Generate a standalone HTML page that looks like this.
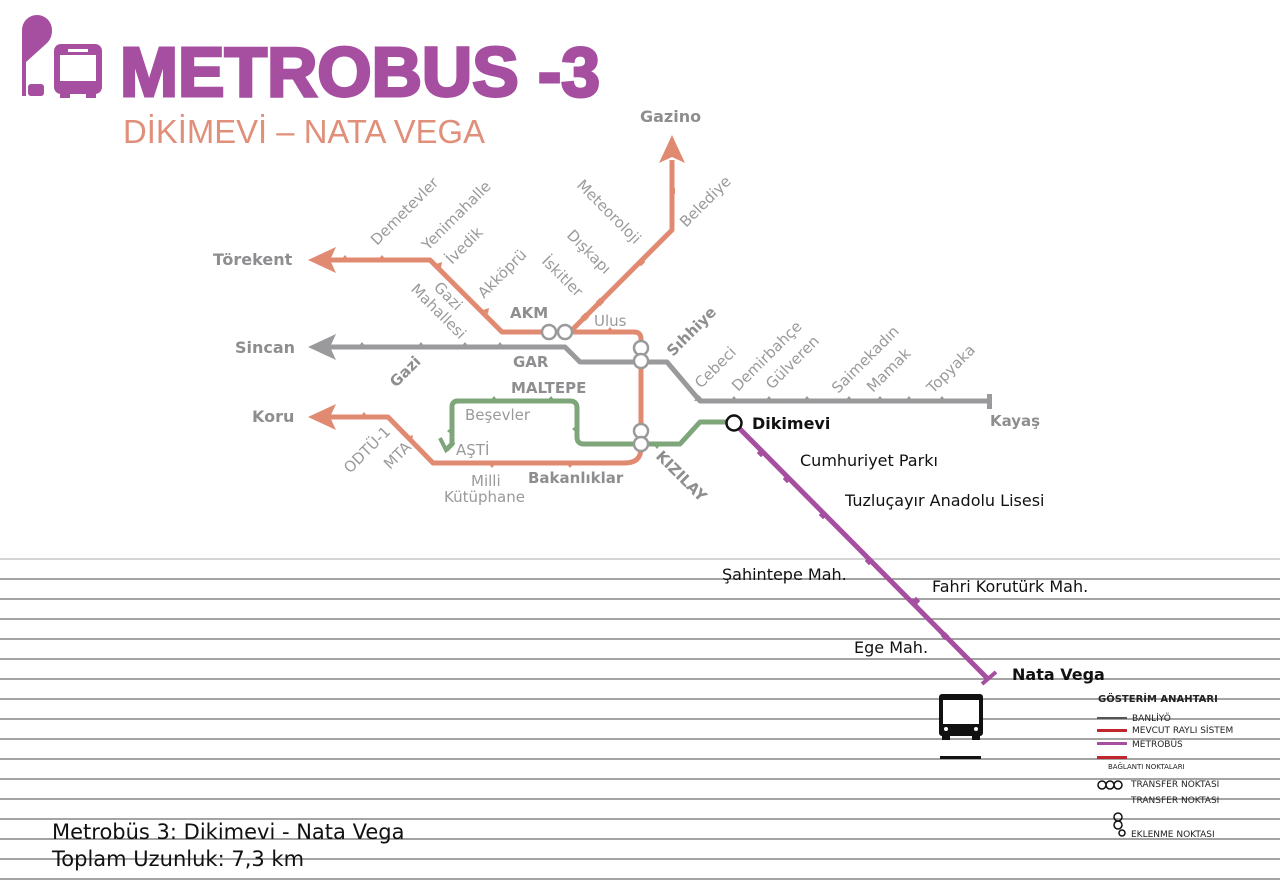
<!DOCTYPE html>
<html><head><meta charset="utf-8"><style>
html,body{margin:0;padding:0;background:#fff;}
svg{display:block;}
text{font-family:"DejaVu Sans","Liberation Sans",sans-serif;}
</style></head><body>
<svg width="1280" height="896" viewBox="0 0 1280 896" xmlns="http://www.w3.org/2000/svg">
<rect width="1280" height="896" fill="#fff"/>
<g fill="#a64ea0">
<path d="M22 96 V30 a15 15 0 0 1 30 0 a18 18 0 0 1 -6 14 L26 62 V96 Z"/>
<rect x="28" y="84" width="16" height="12" rx="3"/>
<rect x="54" y="44" width="48" height="50" rx="7"/>
<rect x="60" y="94" width="10" height="4"/><rect x="86" y="94" width="10" height="4"/>
</g>
<rect x="60" y="55" width="36" height="26" fill="#fff"/>
<rect x="68" y="49" width="20" height="3" fill="#fff"/>
<text x="120" y="96" font-weight="bold" font-size="70" fill="#a64ea0" textLength="480" lengthAdjust="spacingAndGlyphs" style="font-family:'Liberation Sans',sans-serif;font-weight:900" stroke="#a64ea0" stroke-width="3">METROBUS -3</text>
<text x="123" y="143" font-size="33" fill="#e0907a" textLength="362" lengthAdjust="spacingAndGlyphs" style="font-family:'Liberation Sans',sans-serif">DİKİMEVİ – NATA VEGA</text>

<g stroke="#6e6e6e" stroke-width="1.3">
<line x1="0" y1="559" x2="1280" y2="559" stroke="#bbb"/>
<line x1="0" y1="579" x2="1280" y2="579"/><line x1="0" y1="599" x2="1280" y2="599"/>
<line x1="0" y1="619" x2="1280" y2="619"/><line x1="0" y1="639" x2="1280" y2="639"/>
<line x1="0" y1="659" x2="1280" y2="659"/><line x1="0" y1="679" x2="1280" y2="679"/>
<line x1="0" y1="699" x2="1280" y2="699"/><line x1="0" y1="719" x2="1280" y2="719"/>
<line x1="0" y1="739" x2="1280" y2="739"/><line x1="0" y1="759" x2="1280" y2="759"/>
<line x1="0" y1="779" x2="1280" y2="779"/><line x1="0" y1="799" x2="1280" y2="799"/>
<line x1="0" y1="819" x2="1280" y2="819"/><line x1="0" y1="839" x2="1280" y2="839"/>
<line x1="0" y1="859" x2="1280" y2="859"/><line x1="0" y1="879" x2="1280" y2="879"/>
</g>

<g fill="none" stroke="#e08a72" stroke-width="5" stroke-linejoin="round">
<path d="M325 260 H430 L502 332 H634 q7 0 7 7 V448 q0 15 -16 15 H433 L388 417 H325"/>
<path d="M570 332 L672 230 V160"/>
</g>
<g fill="#e08a72">
<polygon points="308,260 336,247 330,260 336,273"/>
<polygon points="308,417 336,404 330,417 336,430"/>
<polygon points="672,135 659,163 672,157 685,163"/>
</g>
<g fill="none" stroke="#9a9a9c" stroke-width="5" stroke-linejoin="round">
<path d="M325 347 H565 L580 362 H667 L700 401 H990"/>
</g>
<polygon points="308,347 336,334 330,347 336,360" fill="#9a9a9c"/>
<rect x="987" y="394" width="5" height="15" fill="#9a9a9c"/>
<g fill="none" stroke="#7fa57a" stroke-width="5" stroke-linejoin="round">
<path d="M734 422 H700 L680 444 H584 q-7 0 -7 -7 V408 q0 -7 -7 -7 H458 q-6 0 -6 6 V444 L446 450"/>
</g>
<path d="M440 438 L446 450 L454 442" fill="none" stroke="#7fa57a" stroke-width="4"/>
<path d="M736 425 L987 678" stroke="#a64ea0" stroke-width="5" fill="none"/>
<path d="M982 684 L996 672" stroke="#a64ea0" stroke-width="4"/>
<g fill="#a64ea0">
<rect x="758" y="450" width="6" height="6" transform="rotate(45 761 453)"/>
<rect x="784" y="476" width="6" height="6" transform="rotate(45 787 479)"/>
<rect x="820" y="512" width="6" height="6" transform="rotate(45 823 515)"/>
<rect x="866" y="558" width="6" height="6" transform="rotate(45 869 561)"/>
<rect x="913" y="598" width="6" height="6" transform="rotate(45 916 601)"/>
<rect x="942" y="633" width="6" height="6" transform="rotate(45 945 636)"/>
</g>
<g fill="#e08a72">
<path d="M341 260 l4 -5 l4 5z M378 260 l4 -5 l4 5z M436 264 l6 -2 l-1 6z M483 310 l6 -2 l-1 6z M606 332 l4 -5 l4 5z M669 190 l6 -2 l0 6z M360 417 l4 -5 l4 5z M407 437 l6 -2 l-1 6z M488 463 l4 5 l4 -5z M566 463 l4 5 l4 -5z"/>
<rect x="597" y="299" width="6" height="6" transform="rotate(45 600 302)"/>
<rect x="638" y="259" width="6" height="6" transform="rotate(45 641 262)"/>
<rect x="582" y="314" width="6" height="6" transform="rotate(45 585 317)"/>
</g>
<g fill="#9a9a9c">
<path d="M358 347 l4 -5 l4 5z M417 347 l4 -5 l4 5z M461 347 l4 -5 l4 5z M496 347 l4 -5 l4 5z M730 401 l4 -5 l4 5z M765 401 l4 -5 l4 5z M803 401 l4 -5 l4 5z M845 401 l4 -5 l4 5z M876 401 l4 -5 l4 5z M905 401 l4 -5 l4 5z M938 401 l4 -5 l4 5z M694 401 l5 -6 l5 6z"/>
</g>
<g fill="#7fa57a">
<path d="M490 401 l4 -5 l4 5z M547 401 l4 -5 l4 5z M452 427 l-5 4 l5 4z M577 425 l-5 4 l5 4z M653 444 l4 5 l4 -5z"/>
</g>
<g fill="#fff" stroke="#9a9a9c" stroke-width="2.5">
<circle cx="549" cy="332" r="7"/><circle cx="565" cy="332" r="7"/>
<circle cx="641" cy="348" r="7"/><circle cx="641" cy="361" r="7"/>
<circle cx="641" cy="431" r="7"/><circle cx="641" cy="444" r="7"/>
</g>
<circle cx="734" cy="423" r="7.5" fill="#fff" stroke="#111" stroke-width="2.5"/>

<g fill="#8e8e90" font-weight="bold" font-size="16">
<text x="213" y="265">Törekent</text>
<text x="235" y="353">Sincan</text>
<text x="252" y="422">Koru</text>
<text x="640" y="122">Gazino</text>
<text x="510" y="318" font-size="15">AKM</text>
<text x="513" y="367" font-size="15">GAR</text>
<text x="511" y="393" font-size="15">MALTEPE</text>
<text x="528" y="483" font-size="15">Bakanlıklar</text>
<text x="990" y="426" font-size="15">Kayaş</text>
<text transform="translate(396,388) rotate(-45)" font-size="15">Gazi</text>
<text transform="translate(673,357) rotate(-45)" font-size="15">Sıhhiye</text>
<text transform="translate(655,457) rotate(45)" font-size="15">KIZILAY</text>
</g>
<g fill="#9a9a9c" font-size="15">
<text transform="translate(377,246) rotate(-45)">Demetevler</text>
<text transform="translate(428,251) rotate(-45)">Yenimahalle</text>
<text transform="translate(452,265) rotate(-45)">İvedik</text>
<text transform="translate(484,299) rotate(-45)">Akköprü</text>
<text transform="translate(410,290) rotate(45)">Mahallesi</text>
<text transform="translate(433,288) rotate(45)">Gazi</text>
<text transform="translate(576,186) rotate(45)">Meteoroloji</text>
<text transform="translate(566,236) rotate(45)">Dışkapı</text>
<text transform="translate(541,262) rotate(45)">İskitler</text>
<text transform="translate(686,228) rotate(-45)">Belediye</text>
<text x="594" y="326">Ulus</text>
<text x="465" y="420">Beşevler</text>
<text x="456" y="455">AŞTİ</text>
<text transform="translate(350,474) rotate(-45)">ODTÜ-1</text>
<text transform="translate(390,470) rotate(-45)">MTA</text>
<text x="471" y="486">Milli</text>
<text x="444" y="502">Kütüphane</text>
<text transform="translate(701,389) rotate(-45)">Cebeci</text>
<text transform="translate(738,392) rotate(-45)">Demirbahçe</text>
<text transform="translate(772,390) rotate(-45)">Gülveren</text>
<text transform="translate(838,394) rotate(-45)">Saimekadın</text>
<text transform="translate(873,393) rotate(-45)">Mamak</text>
<text transform="translate(933,394) rotate(-45)">Topyaka</text>
</g>
<g fill="#111" font-size="16">
<text x="752" y="429" font-weight="bold">Dikimevi</text>
<text x="800" y="466">Cumhuriyet Parkı</text>
<text x="845" y="506">Tuzluçayır Anadolu Lisesi</text>
<text x="722" y="580">Şahintepe Mah.</text>
<text x="932" y="592">Fahri Korutürk Mah.</text>
<text x="854" y="653">Ege Mah.</text>
<text x="1012" y="680" font-weight="bold">Nata Vega</text>
</g>

<g fill="#111">
<rect x="939" y="694" width="44" height="42" rx="3"/>
<rect x="942" y="733" width="8" height="7"/><rect x="972" y="733" width="8" height="7"/>
<rect x="940" y="756" width="41" height="3"/>
</g>
<rect x="943" y="700" width="36" height="24" fill="#fff"/>
<circle cx="946" cy="729" r="2" fill="#fff"/><circle cx="976" cy="729" r="2" fill="#fff"/>
<g style="font-family:'Liberation Sans',sans-serif" fill="#222">
<text x="1098" y="702" font-size="10" font-weight="bold">GÖSTERİM ANAHTARI</text>
<text x="1132" y="721" font-size="9">BANLİYÖ</text>
<text x="1132" y="733" font-size="9">MEVCUT RAYLI SİSTEM</text>
<text x="1132" y="747" font-size="9">METROBÜS</text>
<text x="1108" y="769" font-size="7">BAĞLANTI NOKTALARI</text>
<text x="1131" y="787" font-size="9">TRANSFER NOKTASI</text>
<text x="1131" y="803" font-size="9">TRANSFER NOKTASI</text>
<text x="1131" y="837" font-size="9">EKLENME NOKTASI</text>
</g>
<rect x="1097" y="717" width="30" height="2" fill="#555"/>
<rect x="1097" y="729" width="30" height="3" fill="#c0272d"/>
<rect x="1097" y="742" width="30" height="3" fill="#a64ea0"/>
<rect x="1097" y="756" width="30" height="3" fill="#c0272d"/>
<g fill="none" stroke="#111" stroke-width="1.5">
<circle cx="1102" cy="785" r="4"/><circle cx="1110" cy="785" r="4"/><circle cx="1118" cy="785" r="4"/>
<circle cx="1118" cy="817" r="4"/><circle cx="1118" cy="825" r="4"/>
<circle cx="1122" cy="833" r="3"/>
</g>

<g style="font-family:'Liberation Sans',sans-serif" fill="#111" font-size="21">
<text x="52" y="839">Metrobüs 3: Dikimevi - Nata Vega</text>
<text x="52" y="866">Toplam Uzunluk: 7,3 km</text>
</g>
</svg>
</body></html>
